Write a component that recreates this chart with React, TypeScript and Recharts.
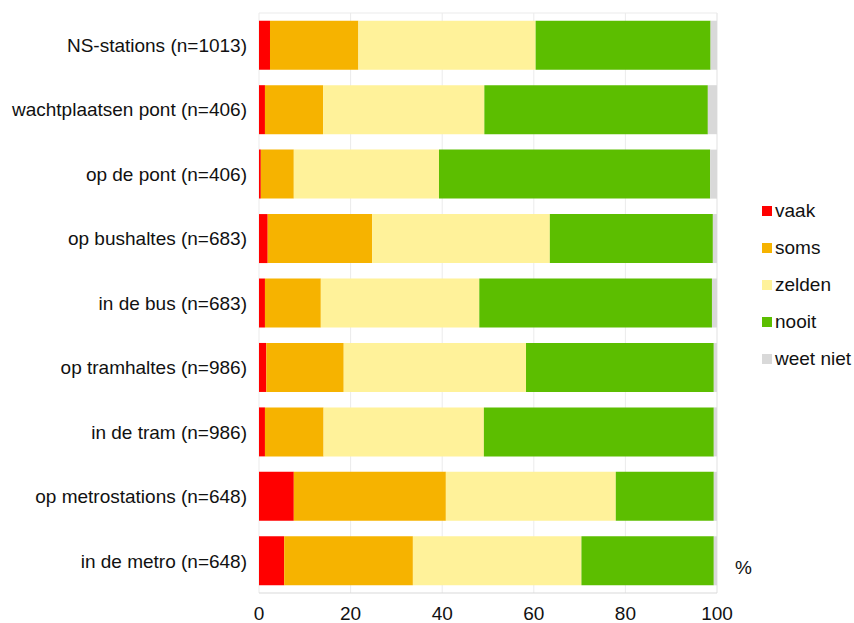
import React from "react";
import { BarChart, Bar, XAxis, YAxis, CartesianGrid } from "recharts";

// categorieën (boven naar beneden)
const categories = [
  "NS-stations (n=1013)",
  "wachtplaatsen pont (n=406)",
  "op de pont (n=406)",
  "op bushaltes (n=683)",
  "in de bus (n=683)",
  "op tramhaltes (n=986)",
  "in de tram (n=986)",
  "op metrostations (n=648)",
  "in de metro (n=648)",
];

const vaak = [2.4, 1.3, 0.4, 1.9, 1.3, 1.6, 1.3, 7.6, 5.5];
const soms = [19.3, 12.7, 7.2, 22.8, 12.2, 16.9, 12.8, 33.2, 28.1];
const zelden = [38.7, 35.2, 31.7, 38.8, 34.6, 39.8, 35.0, 37.1, 36.8];
const nooit = [38.2, 48.8, 59.2, 35.6, 50.8, 41.0, 50.2, 21.4, 28.9];
const weetNiet = [1.4, 2.0, 1.5, 0.9, 1.1, 0.7, 0.7, 0.7, 0.7];

const xTicks = [0, 20, 40, 60, 80, 100];

const series = [
  { key: "vaak", color: "#ff0000" },
  { key: "soms", color: "#f6b300" },
  { key: "zelden", color: "#fff29a" },
  { key: "nooit", color: "#5cbe00" },
  { key: "weet niet", color: "#d9d9d9" },
];

const data = categories.map((name, i) => ({
  name,
  vaak: vaak[i],
  soms: soms[i],
  zelden: zelden[i],
  nooit: nooit[i],
  "weet niet": weetNiet[i],
}));

const FONT = "'Liberation Sans', Arial, sans-serif";
const TEXT = "#111";

function LegendBox() {
  return (
    <div style={{ position: "absolute", left: 762, top: 192, fontFamily: FONT, fontSize: 19, color: TEXT }}>
      {series.map((s) => (
        <div key={s.key} style={{ display: "flex", alignItems: "center", height: 37 }}>
          <span style={{ width: 10, height: 10, background: s.color, marginRight: 3, display: "inline-block" }} />
          <span>{s.key}</span>
        </div>
      ))}
    </div>
  );
}

export default function App() {
  return (
    <div style={{ position: "absolute", left: 0, top: 0, width: 854, height: 623, background: "#fff" }}>
      <BarChart
        width={854}
        height={623}
        data={data}
        layout="vertical"
        margin={{ top: 13, right: 137, left: 0, bottom: 0 }}
        barCategoryGap="12%"
      >
        <CartesianGrid
          stroke="#ebebeb"
          vertical={true}
          horizontalCoordinatesGenerator={({ offset }: any) => [offset.top]}
        />
        <XAxis
          type="number"
          domain={[0, 100]}
          ticks={xTicks}
          height={30}
          tickLine={false}
          tickSize={0}
          tickMargin={14}
          axisLine={{ stroke: "#d9d9d9" }}
          tick={{ fontSize: 19, fill: TEXT, fontFamily: FONT }}
        />
        <YAxis
          type="category"
          dataKey="name"
          width={259}
          tickLine={false}
          tickSize={0}
          tickMargin={12}
          axisLine={false}
          interval={0}
          tick={{ fontSize: 19, fill: TEXT, fontFamily: FONT }}
        />
        {series.map((s) => (
          <Bar key={s.key} dataKey={s.key} stackId="a" fill={s.color} isAnimationActive={false} />
        ))}
      </BarChart>
      <LegendBox />
      <div style={{ position: "absolute", left: 735, top: 557, fontFamily: FONT, fontSize: 19, color: TEXT }}>%</div>
    </div>
  );
}
